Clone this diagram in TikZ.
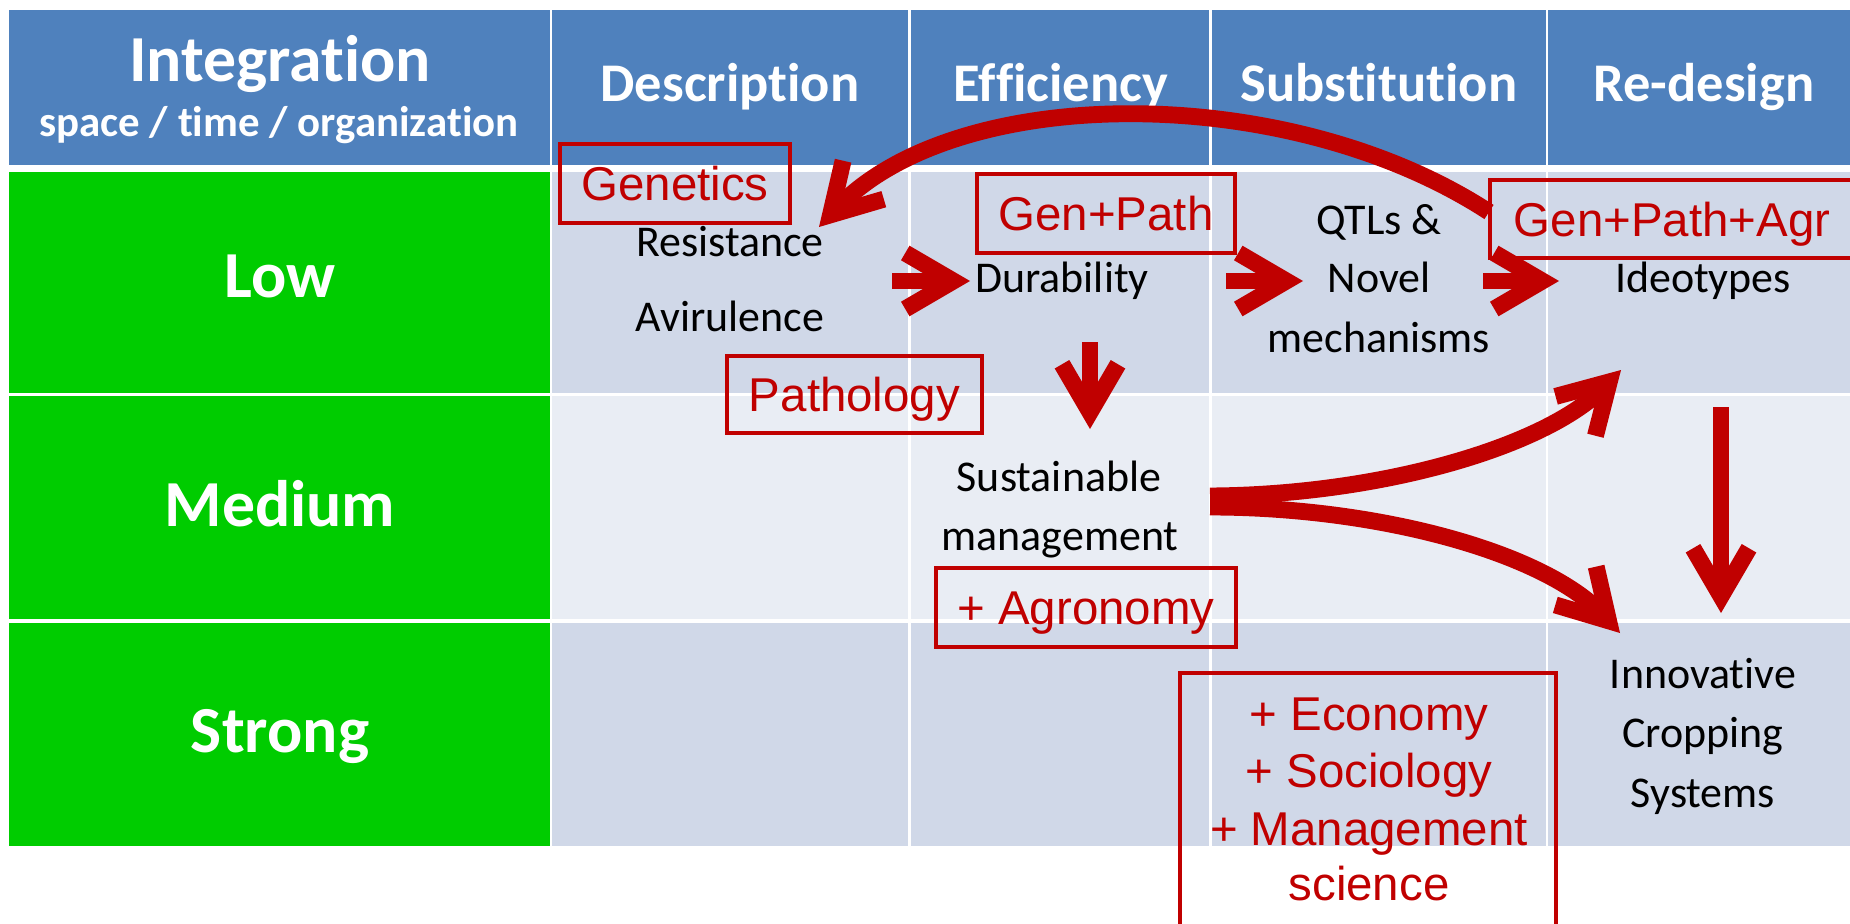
\documentclass[tikz,border=0pt]{standalone}
\usepackage{fontspec}
\setmainfont{Carlito}[Ligatures=NoCommon]
\newfontfamily\arialfont{Liberation Sans}
\usetikzlibrary{arrows.meta}

\definecolor{hdblue}{RGB}{79,129,189}
\definecolor{rowgreen}{RGB}{0,204,0}
\definecolor{celldark}{RGB}{208,216,232}
\definecolor{celllight}{RGB}{233,237,244}
\definecolor{labred}{RGB}{192,0,0}

\tikzset{
  hdtext/.style={text=white, font=\bfseries\fontsize{15.5}{18}\selectfont, anchor=base},
  rowtext/.style={text=white, font=\bfseries\fontsize{18.7}{22}\selectfont, anchor=base},
  bodytext/.style={font=\fontsize{12.5}{15}\selectfont, anchor=base},
  redlabel/.style={draw=labred, line width=0.9pt, text=labred, font=\arialfont\fontsize{13.5}{16}\selectfont,
    inner sep=0pt, text height=0.34cm, text depth=0pt},
  redarrow/.style={draw=labred, line width=4.8pt, -{Straight Barb[length=4.8mm,width=5.6mm]}}
}

\begin{document}
\begin{tikzpicture}
		\useasboundingbox (0,0) rectangle (18.5,9.23);
		\begin{scope}
			\clip (0,0) rectangle (18.5,9.23);

			% table cells
			\fill[hdblue] (0.09,7.58) rectangle (5.50,9.13);
			\foreach \xa/\xb in {5.52/9.08, 9.11/12.09, 12.12/15.46, 15.48/18.6} {
				\fill[hdblue] (\xa,7.58) rectangle (\xb,9.13);
				\fill[celldark] (\xa,5.30) rectangle (\xb,7.51);
				\fill[celllight] (\xa,3.04) rectangle (\xb,5.27);
				\fill[celldark] (\xa,0.77) rectangle (\xb,3.00);
			}
			\fill[rowgreen] (0.09,5.30) rectangle (5.50,7.51);
			\fill[rowgreen] (0.09,3.04) rectangle (5.50,5.27);
			\fill[rowgreen] (0.09,0.77) rectangle (5.50,3.00);

			% headers
			\node[rowtext] (integ) at (2.80,8.41) {Integration};
			\node[hdtext, font=\bfseries\fontsize{12.2}{14}\selectfont] (sto) at (2.79,7.86) {space / time / organization};
			\node[hdtext] (desc) at (7.30,8.21) {Description};
			\node[hdtext] (effi) at (10.61,8.21) {Efficiency};
			\node[hdtext] (subst) at (13.79,8.21) {Substitution};
			\node[hdtext] (redes) at (17.04,8.21) {Re-design};

			\node[rowtext] (low) at (2.80,6.25) {Low};
			\node[rowtext] (medium) at (2.80,3.97) {Medium};
			\node[rowtext] (strong) at (2.80,1.71) {Strong};

			% cell contents
			\node[bodytext] (resist) at (7.30,6.66) {Resistance};
			\node[bodytext] (avir) at (7.30,5.92) {Avirulence};
			\node[bodytext] (dura) at (10.62,6.30) {Durability};
			\node[bodytext] (qtl) at (13.79,6.88) {QTLs \&};
			\node[bodytext] (novel) at (13.79,6.30) {Novel};
			\node[bodytext] (mech) at (13.79,5.71) {mechanisms};
			\node[bodytext] (ideo) at (17.03,6.30) {Ideotypes};
			\node[bodytext] (sust) at (10.59,4.32) {Sustainable};
			\node[bodytext] (mgmt) at (10.60,3.73) {management};
			\node[bodytext] (innov) at (17.03,2.35) {Innovative};
			\node[bodytext] (crop) at (17.03,1.76) {Cropping};
			\node[bodytext] (syst) at (17.03,1.16) {Systems};

			% disciplines
			\node[redlabel, minimum width=2.30cm, minimum height=0.79cm] (genet) at (6.75,7.395) {Genetics};
			\node[redlabel, minimum width=2.58cm, minimum height=0.79cm] (genpath) at (11.06,7.095) {Gen+Path};
			\node[redlabel, minimum width=3.64cm, minimum height=0.78cm] (gpagr) at (16.72,7.04) {Gen+Path+Agr};
			\node[redlabel, minimum width=2.55cm, minimum height=0.77cm] (patho) at (8.545,5.285) {Pathology};
			\node[redlabel, minimum width=3.00cm, minimum height=0.79cm] (agro) at (10.86,3.155) {+ Agronomy};
			\draw[labred, line width=0.9pt] (11.80,-0.2) rectangle (15.56,2.50);
			\node[redlabel, draw=none, anchor=base] (econ) at (13.69,1.93) {+ Economy};
			\node[redlabel, draw=none, anchor=base] (socio) at (13.69,1.36) {+ Sociology};
			\node[redlabel, draw=none, anchor=base] (manag) at (13.69,0.78) {+ Management};
			\node[redlabel, draw=none, anchor=base] (scien) at (13.69,0.23) {science};

			% arrow ends
			\coordinate (resR) at (8.92,6.42);
			\coordinate (duraL) at (9.70,6.42);
			\coordinate (duraR) at (12.26,6.42);
			\coordinate (qtlL) at (13.03,6.42);
			\coordinate (qtlR) at (14.83,6.42);
			\coordinate (ideoL) at (15.59,6.42);
			\coordinate (duraB) at (10.90,5.81);
			\coordinate (sustT) at (10.90,4.94);
			\coordinate (forkU) at (12.10,4.27);
			\coordinate (ideoB) at (16.21,5.53);
			\coordinate (forkD) at (12.10,4.16);
			\coordinate (innovT) at (16.20,2.90);
			\coordinate (redesA) at (17.21,5.16);
			\coordinate (redesB) at (17.21,3.10);
			\coordinate (loopS) at (14.89,7.11);
			\coordinate (loopE) at (8.19,6.96);

			\draw[redarrow] (resR) -- (duraL);
			\draw[redarrow] (duraR) -- (qtlL);
			\draw[redarrow] (qtlR) -- (ideoL);
			\draw[redarrow] (duraB) -- (sustT);
			\draw[redarrow] (redesA) -- (redesB);
			\draw[redarrow] (forkU) .. controls (13.8,4.28) and (15.45,4.76) .. (ideoB);
			\draw[redarrow] (forkD) .. controls (13.8,4.16) and (15.45,3.70) .. (innovT);
			\draw[redarrow] (loopS) .. controls (12.88,8.42) and (9.56,8.41) .. (loopE);
		\end{scope}
\end{tikzpicture}
\end{document}
